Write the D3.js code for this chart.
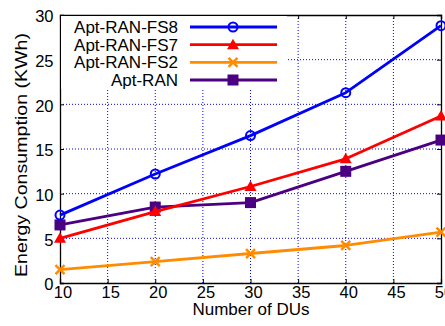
<!DOCTYPE html>
<html>
<head>
<meta charset="utf-8">
<script src="https://cdn.jsdelivr.net/npm/d3@7"></script>
<style>
  html, body { margin: 0; padding: 0; background: #fff; }
  svg { display: block; font-family: "Liberation Sans", Arial, Helvetica, sans-serif; }
</style>
</head>
<body>
<svg id="chart" width="445" height="326"></svg>
<script>
// Number of distributed units on the x axis
const dus = [10, 20, 30, 40, 50];

// Energy consumption (KWh) per configuration
const fs8 = [7.6, 12.2, 16.5, 21.3, 28.8];
const fs7 = [5.0, 8.0, 10.8, 13.9, 18.7];
const fs2 = [1.5, 2.4, 3.3, 4.2, 5.7];
const aptRan = [6.5, 8.5, 9.0, 12.5, 16.0];

const seriesNames = ["Apt-RAN-FS8", "Apt-RAN-FS7", "Apt-RAN-FS2", "Apt-RAN"];
const seriesColors = ["#0000ff", "#ff0000", "#ff8c00", "#4b0082"];
const seriesMarkers = ["circle", "triangle", "cross", "square"];

const xTicks = [10, 15, 20, 25, 30, 35, 40, 45, 50];
const yTicks = [0, 5, 10, 15, 20, 25, 30];

const xTitle = "Number of DUs";
const yTitle = "Energy Consumption (KWh)";

const series = [fs8, fs7, fs2, aptRan].map((vals, i) => ({
  name: seriesNames[i],
  color: seriesColors[i],
  marker: seriesMarkers[i],
  points: vals.map((v, j) => ({ x: dus[j], y: v }))
}));

const svg = d3.select("#chart");
const m = { left: 60, top: 15, right: 441, bottom: 283 };

const x = d3.scaleLinear().domain([10, 50]).range([m.left, m.right]);
const y = d3.scaleLinear().domain([0, 30]).range([m.bottom, m.top]);

// dotted grid
const grid = svg.append("g");
grid.selectAll("line.gx")
  .data(xTicks.slice(1, -1))
  .join("line")
  .attr("x1", d => x(d)).attr("x2", d => x(d))
  .attr("y1", m.top).attr("y2", m.bottom)
  .attr("stroke", "#0000ff").attr("stroke-width", 1)
  .attr("stroke-dasharray", "1,2");
grid.selectAll("line.gy")
  .data(yTicks.slice(1, -1))
  .join("line")
  .attr("x1", m.left).attr("x2", m.right)
  .attr("y1", d => y(d)).attr("y2", d => y(d))
  .attr("stroke", "#0000ff").attr("stroke-width", 1)
  .attr("stroke-dasharray", "1,2");

// axes (ticks point inward, mirrored on top/right)
const tickLen = 4;
const xAxis = d3.axisBottom(x).tickValues(xTicks).tickSize(-tickLen).tickPadding(3.5);
const yAxis = d3.axisLeft(y).tickValues(yTicks).tickSize(-tickLen).tickPadding(6.5);

const gx = svg.append("g").attr("transform", `translate(0,${m.bottom})`).call(xAxis);
const gy = svg.append("g").attr("transform", `translate(${m.left},0)`).call(yAxis);
svg.append("g").attr("transform", `translate(0,${m.top})`)
  .call(d3.axisTop(x).tickValues(xTicks).tickSize(-tickLen).tickFormat(""));
svg.append("g").attr("transform", `translate(${m.right},0)`)
  .call(d3.axisRight(y).tickValues(yTicks).tickSize(-tickLen).tickFormat(""));

svg.selectAll(".domain").attr("stroke", "#000").attr("stroke-width", 1.3);
svg.selectAll(".tick line").attr("stroke", "#000");
[gx, gy].forEach(g => g.selectAll("text")
  .attr("font-size", 16.5).attr("fill", "#000")
  .attr("font-family", "Liberation Sans, Arial, sans-serif"));
gx.selectAll("text").attr("dx", 2.5);
gy.selectAll("text").attr("dy", "0.42em");

// axis titles
svg.append("text")
  .attr("x", 251).attr("y", 314.5)
  .attr("text-anchor", "middle").attr("font-size", 17).attr("fill", "#000")
  .text(xTitle);
svg.append("text")
  .attr("transform", `translate(26.5,155) rotate(-90)`)
  .attr("text-anchor", "middle").attr("font-size", 16).attr("fill", "#000")
  .attr("textLength", 244).attr("lengthAdjust", "spacingAndGlyphs")
  .text(yTitle);

// marker drawing
function drawMarker(g, type, color, cx, cy) {
  if (type === "circle") {
    g.append("circle").attr("cx", cx).attr("cy", cy).attr("r", 4.5)
      .attr("fill", "none").attr("stroke", color).attr("stroke-width", 2);
  } else if (type === "triangle") {
    const s = 6;
    g.append("path")
      .attr("d", `M${cx},${cy - s}L${cx + s},${cy + s * 0.75}L${cx - s},${cy + s * 0.75}Z`)
      .attr("fill", color);
  } else if (type === "cross") {
    const s = 4.5;
    g.append("path")
      .attr("d", `M${cx - s},${cy - s}L${cx + s},${cy + s}M${cx - s},${cy + s}L${cx + s},${cy - s}`)
      .attr("stroke", color).attr("stroke-width", 2.5).attr("fill", "none");
  } else {
    const s = 5.5;
    g.append("rect").attr("x", cx - s).attr("y", cy - s)
      .attr("width", 2 * s).attr("height", 2 * s).attr("fill", color);
  }
}

// legend with a white backing that hides the grid behind it
const legend = svg.append("g");
legend.append("rect")
  .attr("x", m.left + 1).attr("y", m.top + 1)
  .attr("width", 226).attr("height", 73).attr("fill", "#fff");

const line = d3.line().x(d => x(d.x)).y(d => y(d.y));
const plot = svg.append("g");

// draw series in reverse so FS8 sits on top
series.slice().reverse().forEach(s => {
  plot.append("path").datum(s.points)
    .attr("d", line).attr("fill", "none")
    .attr("stroke", s.color).attr("stroke-width", 2.8)
    .attr("stroke-linejoin", "round");
  s.points.forEach(p => drawMarker(plot, s.marker, s.color, x(p.x), y(p.y)));
});

const legendRows = [27, 44.7, 62.4, 80];
series.forEach((s, i) => {
  const ly = legendRows[i];
  legend.append("text")
    .attr("x", 178).attr("y", ly + 6)
    .attr("text-anchor", "end").attr("font-size", 17).attr("fill", "#000")
    .text(s.name);
  legend.append("line")
    .attr("x1", 190).attr("x2", 277).attr("y1", ly).attr("y2", ly)
    .attr("stroke", s.color).attr("stroke-width", 2.8);
  drawMarker(legend, s.marker, s.color, 233, ly);
});
</script>
</body>
</html>
